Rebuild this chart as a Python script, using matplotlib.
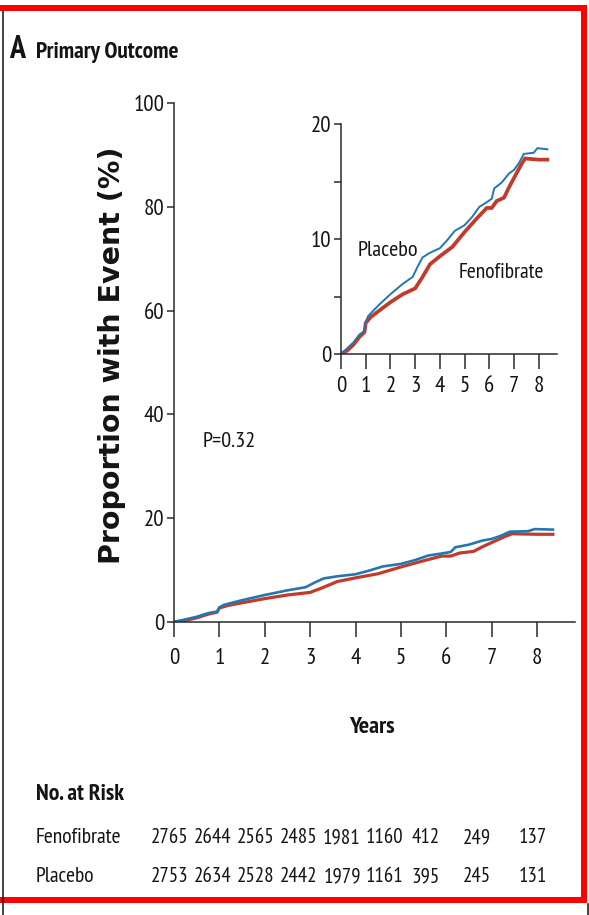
import matplotlib
matplotlib.use("Agg")
import matplotlib.pyplot as plt
from matplotlib.lines import Line2D

# -----------------------------
# Cumulative event curves (%), read at irregular times (years)
# -----------------------------
placebo_t = [0, 0.25, 0.5, 0.75, 0.95, 1.0, 1.1, 1.5, 2.0, 2.5, 2.9, 3.1, 3.3,
             3.6, 4.0, 4.3, 4.6, 5.0, 5.3, 5.6, 5.9, 6.1, 6.2, 6.5, 6.8, 7.0,
             7.2, 7.4, 7.8, 7.95, 8.35]
placebo_y = [0, 0.5, 1.0, 1.7, 2.0, 2.8, 3.3, 4.2, 5.2, 6.1, 6.7, 7.6, 8.4,
             8.8, 9.2, 9.9, 10.7, 11.2, 11.9, 12.8, 13.2, 13.5, 14.4, 14.9,
             15.7, 16.0, 16.6, 17.4, 17.5, 17.9, 17.8]

feno_t = [0, 0.25, 0.5, 0.75, 0.95, 1.0, 1.2, 1.5, 2.0, 2.5, 3.0, 3.3, 3.6,
          4.0, 4.5, 5.0, 5.5, 5.9, 6.1, 6.3, 6.6, 6.8, 7.0, 7.3, 7.45, 8.0,
          8.35]
feno_y = [0, 0.3, 0.8, 1.5, 1.9, 2.7, 3.2, 3.7, 4.5, 5.2, 5.7, 6.7, 7.8,
          8.5, 9.3, 10.6, 11.8, 12.7, 12.7, 13.3, 13.6, 14.5, 15.3, 16.5,
          17.0, 16.9, 16.9]

p_value = "P=0.32"

# numbers at risk
risk_groups = ["Fenofibrate", "Placebo"]
risk_fenofibrate = [2765, 2644, 2565, 2485, 1981, 1160, 412, 249, 137]
risk_placebo = [2753, 2634, 2528, 2442, 1979, 1161, 395, 245, 131]

main_xticks = list(range(0, 9))
main_yticks = [0, 20, 40, 60, 80, 100]
inset_yticks = [0, 5, 10, 15, 20]
inset_ylabels = ["0", "", "10", "", "20"]

# -----------------------------
# Styling
# -----------------------------
W, H = 589, 915
BLUE = "#2476b0"
RED = "#c23b2a"
AXC = "#2a2a2a"
TXT = "#141414"
NARROW = ["PT Sans Narrow", "Roboto Condensed", "Fira Sans Extra Condensed",
          "DejaVu Sans"]


def fx(x):
    return x / W


def fy(y):
    return 1 - y / H


fig = plt.figure(figsize=(W / 100, H / 100), dpi=100)
fig.patch.set_facecolor("white")


def style_axes(ax, ytick_len, xtick_len, xpad, ypad, size):
    for s in ["top", "right"]:
        ax.spines[s].set_visible(False)
    for s in ["left", "bottom"]:
        ax.spines[s].set_color(AXC)
        ax.spines[s].set_linewidth(1.1)
    ax.tick_params(axis="y", direction="out", length=ytick_len, width=1.1,
                   color=AXC, pad=ypad)
    ax.tick_params(axis="x", direction="out", length=xtick_len, width=1.1,
                   color=AXC, pad=xpad)
    for lab in ax.get_xticklabels() + ax.get_yticklabels():
        lab.set_family(NARROW)
        lab.set_fontsize(size)
        lab.set_color(TXT)


# -----------------------------
# Main panel
# -----------------------------
ax = fig.add_axes([fx(174), fy(622), fx(575 - 174), (622 - 103) / H])
ax.plot(feno_t, feno_y, color=RED, lw=2.3, solid_joinstyle="miter")
ax.plot(placebo_t, placebo_y, color=BLUE, lw=1.9, solid_joinstyle="miter")
ax.set_xlim(0, 401 / 45.375)
ax.set_ylim(0, 100)
ax.set_xticks(main_xticks)
ax.set_yticks(main_yticks)
ax.set_xticklabels([str(t) for t in main_xticks])
ax.set_yticklabels([str(t) for t in main_yticks])
style_axes(ax, ytick_len=5, xtick_len=11, xpad=8, ypad=2, size=16.5)
ax.text(0.64, 33.7, p_value, family=NARROW, fontsize=16, color=TXT,
        ha="left", va="baseline")

# -----------------------------
# Inset, zoomed to 0-20 %
# -----------------------------
ins = fig.add_axes([fx(341), fy(354), fx(557 - 341), (354 - 124) / H])
ins.plot(feno_t, feno_y, color=RED, lw=2.7, solid_joinstyle="miter")
ins.plot(placebo_t, placebo_y, color=BLUE, lw=1.4, solid_joinstyle="miter")
ins.set_xlim(0, 216 / 24.71)
ins.set_ylim(0, 20)
ins.set_xticks(main_xticks)
ins.set_yticks(inset_yticks)
ins.set_xticklabels([str(t) for t in main_xticks])
ins.set_yticklabels(inset_ylabels)
style_axes(ins, ytick_len=5, xtick_len=11, xpad=5, ypad=2, size=16.5)
ins.text(0.69, 8.5, "Placebo", family=NARROW, fontsize=16, color=TXT,
         ha="left", va="baseline")
ins.text(4.78, 6.6, "Fenofibrate", family=NARROW, fontsize=15.5, color=TXT,
         ha="left", va="baseline")

# -----------------------------
# Titles and axis labels
# -----------------------------
fig.text(fx(9), fy(58), "A", family=NARROW, fontsize=23,
         fontweight="bold", color=TXT, ha="left", va="baseline")
fig.text(fx(36), fy(58), "Primary Outcome", family=NARROW, fontsize=16.8,
         fontweight="bold", color=TXT, ha="left", va="baseline")
fig.text(fx(112), fy(355), "Proportion with Event (%)", family="DejaVu Sans",
         fontsize=20.5, fontweight="bold", color=TXT, rotation=90,
         ha="center", va="center")
fig.text(fx(372), fy(733), "Years", family=NARROW, fontsize=17.5,
         fontweight="bold", color=TXT, ha="center", va="baseline")

# -----------------------------
# Numbers at risk table
# -----------------------------
col_x = [170, 213, 256, 299, 342, 385, 426, 477, 533]
row_y = [843, 882]
fig.text(fx(36), fy(800), "No. at Risk", family=NARROW, fontsize=17,
         fontweight="bold", color=TXT, ha="left", va="baseline")
for name, counts, y in zip(risk_groups, [risk_fenofibrate, risk_placebo],
                           row_y):
    fig.text(fx(36), fy(y), name, family=NARROW, fontsize=15.6, color=TXT,
             ha="left", va="baseline")
    for x, n in zip(col_x, counts):
        fig.text(fx(x), fy(y), str(n), family=NARROW, fontsize=15,
                 color=TXT, ha="center", va="baseline")

# -----------------------------
# Outer frame
# -----------------------------
frame_kw = dict(transform=fig.transFigure, color="#ff0000", lw=4.3,
                solid_capstyle="projecting")
fig.add_artist(Line2D([fx(0), fx(584)], [fy(7.5), fy(7.5)], **frame_kw))
fig.add_artist(Line2D([fx(584), fx(584)], [fy(7.5), fy(900)], **frame_kw))
fig.add_artist(Line2D([fx(0), fx(584)], [fy(900), fy(900)], **frame_kw))
fig.add_artist(Line2D([fx(2.5), fx(2.5)], [fy(11), fy(915)],
                      transform=fig.transFigure, color="#222222", lw=1.2))
fig.add_artist(Line2D([fx(587.5), fx(587.5)], [fy(904), fy(915)],
                      transform=fig.transFigure, color="#222222", lw=1.2))

fig.savefig("out.png", dpi=100, facecolor="white")
